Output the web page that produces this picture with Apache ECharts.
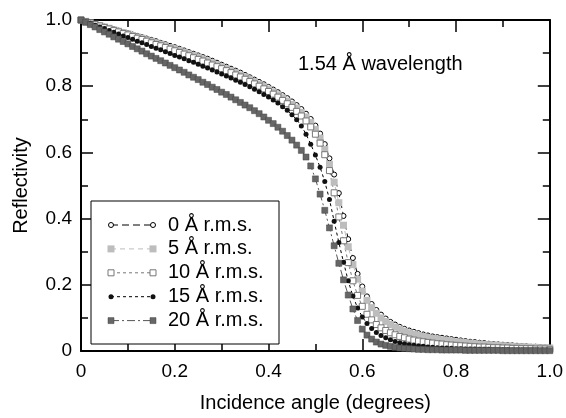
<!DOCTYPE html>
<html><head><meta charset="utf-8">
<script src="https://cdn.jsdelivr.net/npm/echarts@6/dist/echarts.min.js"></script>
<style>html,body{margin:0;padding:0;background:#fff}#c{width:566px;height:418px}</style>
</head><body><div id="c"></div>
<script>
// Incidence angle (degrees)
const angles = [0.00,0.01,0.02,0.03,0.04,0.05,0.06,0.07,0.08,0.09,
0.10,0.11,0.12,0.13,0.14,0.15,0.16,0.17,0.18,0.19,
0.20,0.21,0.22,0.23,0.24,0.25,0.26,0.27,0.28,0.29,
0.30,0.31,0.32,0.33,0.34,0.35,0.36,0.37,0.38,0.39,
0.40,0.41,0.42,0.43,0.44,0.45,0.46,0.47,0.48,0.49,
0.50,0.51,0.52,0.53,0.54,0.55,0.56,0.57,0.58,0.59,
0.60,0.61,0.62,0.63,0.64,0.65,0.66,0.67,0.68,0.69,
0.70,0.71,0.72,0.73,0.74,0.75,0.76,0.77,0.78,0.79,
0.80,0.81,0.82,0.83,0.84,0.85,0.86,0.87,0.88,0.89,
0.90,0.91,0.92,0.93,0.94,0.95,0.96,0.97,0.98,0.99,1.00];

const refl0 = [1.000,0.996,0.992,0.988,0.984,0.980,0.976,0.972,0.968,0.964,
0.960,0.956,0.952,0.948,0.944,0.940,0.936,0.931,0.927,0.922,
0.918,0.913,0.908,0.903,0.898,0.893,0.888,0.883,0.877,0.871,
0.865,0.859,0.853,0.847,0.841,0.834,0.827,0.820,0.813,0.806,
0.798,0.790,0.782,0.773,0.764,0.754,0.743,0.731,0.717,0.701,
0.681,0.657,0.625,0.582,0.533,0.477,0.408,0.338,0.281,0.233,
0.195,0.165,0.142,0.124,0.110,0.098,0.088,0.080,0.073,0.067,
0.062,0.058,0.054,0.050,0.047,0.044,0.042,0.040,0.038,0.036,
0.034,0.032,0.030,0.028,0.027,0.025,0.024,0.022,0.021,0.020,
0.019,0.018,0.017,0.016,0.015,0.014,0.013,0.013,0.012,0.011,0.011];

const refl5 = [1.000,0.996,0.991,0.987,0.983,0.979,0.975,0.970,0.966,0.962,
0.958,0.953,0.949,0.945,0.940,0.936,0.931,0.927,0.922,0.917,
0.913,0.908,0.903,0.898,0.893,0.888,0.882,0.877,0.871,0.865,
0.859,0.853,0.847,0.841,0.834,0.828,0.821,0.814,0.806,0.799,
0.791,0.783,0.774,0.765,0.755,0.745,0.734,0.721,0.707,0.690,
0.669,0.643,0.609,0.564,0.510,0.448,0.380,0.315,0.261,0.217,
0.181,0.153,0.131,0.114,0.100,0.089,0.080,0.072,0.066,0.060,
0.055,0.051,0.047,0.044,0.041,0.038,0.036,0.034,0.032,0.030,
0.028,0.027,0.025,0.024,0.022,0.021,0.020,0.019,0.018,0.017,
0.016,0.015,0.014,0.013,0.013,0.012,0.011,0.011,0.010,0.010,0.009];

const refl10 = [1.000,0.995,0.991,0.986,0.982,0.977,0.973,0.968,0.964,0.959,
0.955,0.950,0.945,0.941,0.936,0.931,0.926,0.922,0.917,0.912,
0.907,0.902,0.897,0.892,0.886,0.881,0.876,0.870,0.864,0.859,
0.853,0.847,0.841,0.834,0.828,0.821,0.814,0.807,0.800,0.792,
0.784,0.776,0.767,0.757,0.747,0.736,0.724,0.710,0.695,0.677,
0.655,0.628,0.593,0.545,0.478,0.405,0.333,0.267,0.212,0.168,
0.135,0.111,0.094,0.080,0.070,0.062,0.055,0.049,0.044,0.040,
0.036,0.033,0.030,0.028,0.026,0.024,0.022,0.021,0.019,0.018,
0.017,0.016,0.015,0.014,0.013,0.012,0.012,0.011,0.010,0.010,
0.009,0.009,0.008,0.008,0.007,0.007,0.007,0.006,0.006,0.006,0.005];

const refl15 = [1.000,0.995,0.990,0.984,0.979,0.974,0.968,0.963,0.958,0.952,
0.947,0.942,0.936,0.931,0.926,0.920,0.915,0.910,0.904,0.899,
0.893,0.888,0.883,0.877,0.872,0.866,0.860,0.855,0.849,0.843,
0.837,0.831,0.825,0.818,0.812,0.805,0.798,0.791,0.783,0.775,
0.767,0.758,0.749,0.738,0.727,0.714,0.699,0.680,0.655,0.625,
0.592,0.555,0.512,0.458,0.392,0.328,0.268,0.212,0.166,0.130,
0.103,0.083,0.068,0.056,0.047,0.040,0.034,0.029,0.025,0.022,
0.019,0.017,0.015,0.014,0.012,0.011,0.010,0.009,0.009,0.008,
0.007,0.007,0.006,0.006,0.006,0.005,0.005,0.005,0.004,0.004,
0.004,0.004,0.003,0.003,0.003,0.003,0.003,0.003,0.002,0.002,0.002];

const refl20 = [1.000,0.993,0.986,0.979,0.971,0.964,0.957,0.949,0.942,0.935,
0.928,0.920,0.913,0.906,0.898,0.891,0.884,0.877,0.870,0.863,
0.856,0.849,0.842,0.834,0.827,0.820,0.812,0.805,0.797,0.790,
0.782,0.775,0.767,0.759,0.751,0.743,0.735,0.726,0.717,0.707,
0.697,0.687,0.676,0.664,0.651,0.637,0.622,0.606,0.586,0.559,
0.520,0.474,0.425,0.372,0.318,0.265,0.215,0.169,0.127,0.092,
0.066,0.048,0.036,0.027,0.021,0.017,0.014,0.011,0.009,0.008,
0.007,0.006,0.005,0.005,0.004,0.004,0.004,0.003,0.003,0.003,
0.003,0.003,0.002,0.002,0.002,0.002,0.002,0.002,0.002,0.002,
0.001,0.001,0.001,0.001,0.001,0.001,0.001,0.001,0.001,0.001,0.001];

const seriesNames = ['0 Å r.m.s.','5 Å r.m.s.','10 Å r.m.s.','15 Å r.m.s.','20 Å r.m.s.'];
const seriesValues = [refl0, refl5, refl10, refl15, refl20];
const annotation = '1.54 Å wavelength';
const xName = 'Incidence angle (degrees)';
const yName = 'Reflectivity';

const FONT = "'Liberation Sans', Arial, Helvetica, sans-serif";
const styles = [
  {symbol:'circle', size:5, item:{color:'#fff', borderColor:'#000', borderWidth:1}, line:{color:'#000', width:1, type:[7,4]}},
  {symbol:'rect', size:7, item:{color:'#bdbdbd', borderWidth:0}, line:{color:'#bdbdbd', width:1, type:[5,4]}},
  {symbol:'rect', size:6, item:{color:'#fff', borderColor:'#777', borderWidth:1}, line:{color:'#777', width:1, type:[3,3]}},
  {symbol:'circle', size:5, item:{color:'#111', borderWidth:0}, line:{color:'#000', width:1, type:[3,3]}},
  {symbol:'rect', size:6, item:{color:'#666', borderColor:'#444', borderWidth:0.5}, line:{color:'#555', width:1, type:[8,3,2,3]}}
];

const labelFmt = v => v === 0 ? '0' : v.toFixed(1);
function axisCfg(opts){
  return {
    type:'value', min:0, max:1, interval:0.2,
    position: opts.position,
    name: opts.name || '', nameLocation:'middle', nameGap: opts.nameGap || 0,
    nameTextStyle:{color:'#000', fontFamily:FONT, fontSize:20},
    axisLine:{show:true, onZero:false, lineStyle:{color:'#000', width:2}},
    axisTick:{show:true, inside:true, length:12, lineStyle:{color:'#000', width:1.5}},
    minorTick:{show:true, splitNumber:2, length:7, lineStyle:{color:'#000', width:1.5}},
    splitLine:{show:false}, minorSplitLine:{show:false},
    axisLabel:{show: !!opts.labels, color:'#000', fontFamily:FONT, fontSize:19, margin: opts.margin || 9, formatter:labelFmt}
  };
}

const chart = echarts.init(document.getElementById('c'));

const series = seriesValues.map((vals, k) => ({
  name: seriesNames[k], type:'line', xAxisIndex:0, yAxisIndex:0,
  data: vals.map((v,i) => [angles[i], v]),
  symbol: styles[k].symbol, symbolSize: styles[k].size, showAllSymbol:true,
  itemStyle: styles[k].item, lineStyle: styles[k].line,
  emphasis:{disabled:true}, silent:true, animation:false
}));

// Legend drawn as graphics
const legendX = 91, legendY = 201, legendW = 188, legendH = 143;
const rowY0 = 225, rowDY = 23.9, lineX1 = 111, lineX2 = 153, textX = 168;
const legendEls = [{type:'rect', shape:{x:legendX, y:legendY, width:legendW, height:legendH}, style:{fill:'#fff', stroke:'#000', lineWidth:1}, z:100}];
styles.forEach((s,k) => {
  const y = rowY0 + k*rowDY;
  legendEls.push({type:'line', shape:{x1:lineX1, y1:y, x2:lineX2, y2:y}, style:{stroke:s.line.color, lineWidth:1, lineDash:s.line.type}, z:101});
  [lineX1, lineX2].forEach(x => {
    const fill = s.item.color, stroke = s.item.borderWidth ? s.item.borderColor : null;
    if (s.symbol === 'circle') {
      legendEls.push({type:'circle', shape:{cx:x, cy:y, r:s.size/2}, style:{fill:fill, stroke:stroke, lineWidth:s.item.borderWidth||0}, z:102});
    } else {
      legendEls.push({type:'rect', shape:{x:x-s.size/2, y:y-s.size/2, width:s.size, height:s.size}, style:{fill:fill, stroke:stroke, lineWidth:s.item.borderWidth||0}, z:102});
    }
  });
  legendEls.push({type:'text', x:textX, y:y, style:{text:seriesNames[k], fill:'#000', font:'20px ' + FONT, verticalAlign:'middle', align:'left'}, z:102});
});
legendEls.push({type:'text', x:298, y:64, style:{text:annotation, fill:'#000', font:'20px ' + FONT, verticalAlign:'middle', align:'left'}, z:102});

chart.setOption({
  animation:false,
  backgroundColor:'#fff',
  grid:{left:81, right:12, top:20, bottom:59},
  xAxis:[
    axisCfg({position:'bottom', name:xName, nameGap:42, labels:true, margin:11}),
    axisCfg({position:'top'})
  ],
  yAxis:[
    axisCfg({position:'left', name:yName, nameGap:50, labels:true}),
    axisCfg({position:'right'})
  ],
  series: series,
  graphic: legendEls
});
</script>
</body></html>
